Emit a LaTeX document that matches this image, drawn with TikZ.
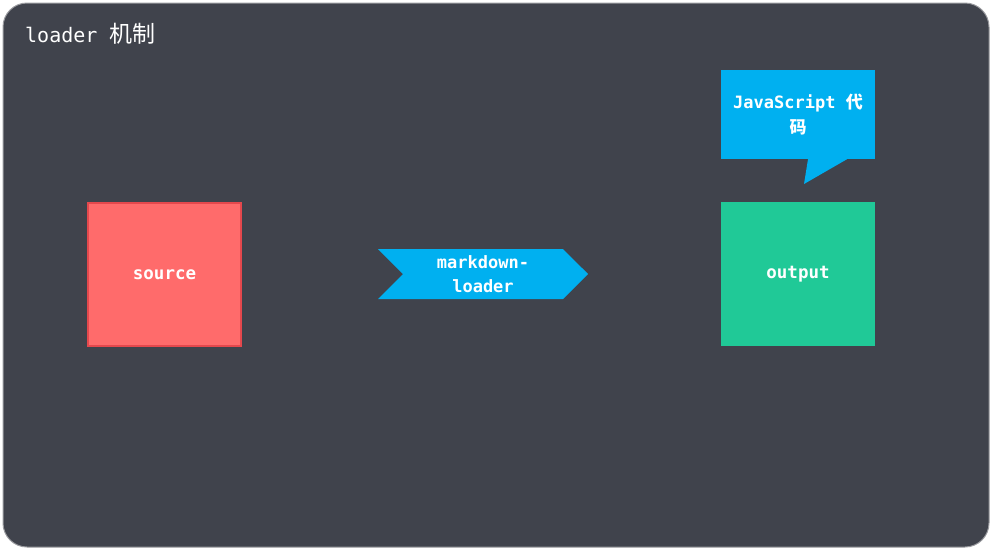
\documentclass[tikz,border=0pt]{standalone}
\usepackage{fontspec}
\setmonofont{DejaVu Sans Mono}
\newfontfamily\cjk{Noto Sans CJK SC}
\usetikzlibrary{shapes.symbols}
\definecolor{bgdark}{HTML}{40434C}
\definecolor{rimgray}{HTML}{9A9B9F}
\definecolor{srcred}{HTML}{FF6B6B}
\definecolor{srcrim}{HTML}{E5484D}
\definecolor{outgreen}{HTML}{20C997}
\definecolor{tipblue}{HTML}{00B0F0}
\tikzset{sq/.style={minimum width=153pt, minimum height=143pt, inner sep=0pt, text=white, font=\ttfamily\bfseries\fontsize{17.5}{24}\selectfont},
        src/.style={sq, fill=srcred, draw=srcrim, line width=1.2pt},
        outp/.style={sq, fill=outgreen, minimum width=154pt, minimum height=144pt},
        chev/.style={signal, signal from=west, signal to=east, signal pointer angle=90, fill=tipblue, minimum width=210pt, minimum height=50pt, inner sep=0pt, text=white, align=center, font=\ttfamily\bfseries\fontsize{17}{24}\selectfont},
        tip/.style={fill=tipblue, minimum width=154pt, minimum height=89pt, inner sep=0pt, text=white, align=center, font=\ttfamily\bfseries\fontsize{17}{25}\selectfont}}

\begin{document}
\begin{tikzpicture}[x=1pt, y=-1pt]
    \useasboundingbox (0,0) rectangle (992,550);
    % frame
    \draw[fill=bgdark, draw=rimgray, line width=1pt, rounded corners=24pt] (3,3) rectangle (989,547);
    \node[anchor=west, text=white, font=\ttfamily\fontsize{20}{24}\selectfont, inner sep=0pt] (title) at (25,34) {loader {\cjk\fontsize{23}{24}\selectfont 机制}};

    % the three stages
    \node[src] (source) at (164.5,274.5) {source};
    \node[chev] (loader) at (483,274) {markdown-\\loader};
    \node[outp] (output) at (798,274) {output};

    % speech bubble above output
    \node[tip] (code) at (798,114.5) {JavaScript {\cjk 代}\\{\cjk 码}};
    \coordinate (tail) at (804,184);
    \fill[tipblue] ([xshift=10pt]code.south) -- (tail) -- ([xshift=49pt]code.south) -- cycle;
\end{tikzpicture}
\end{document}
